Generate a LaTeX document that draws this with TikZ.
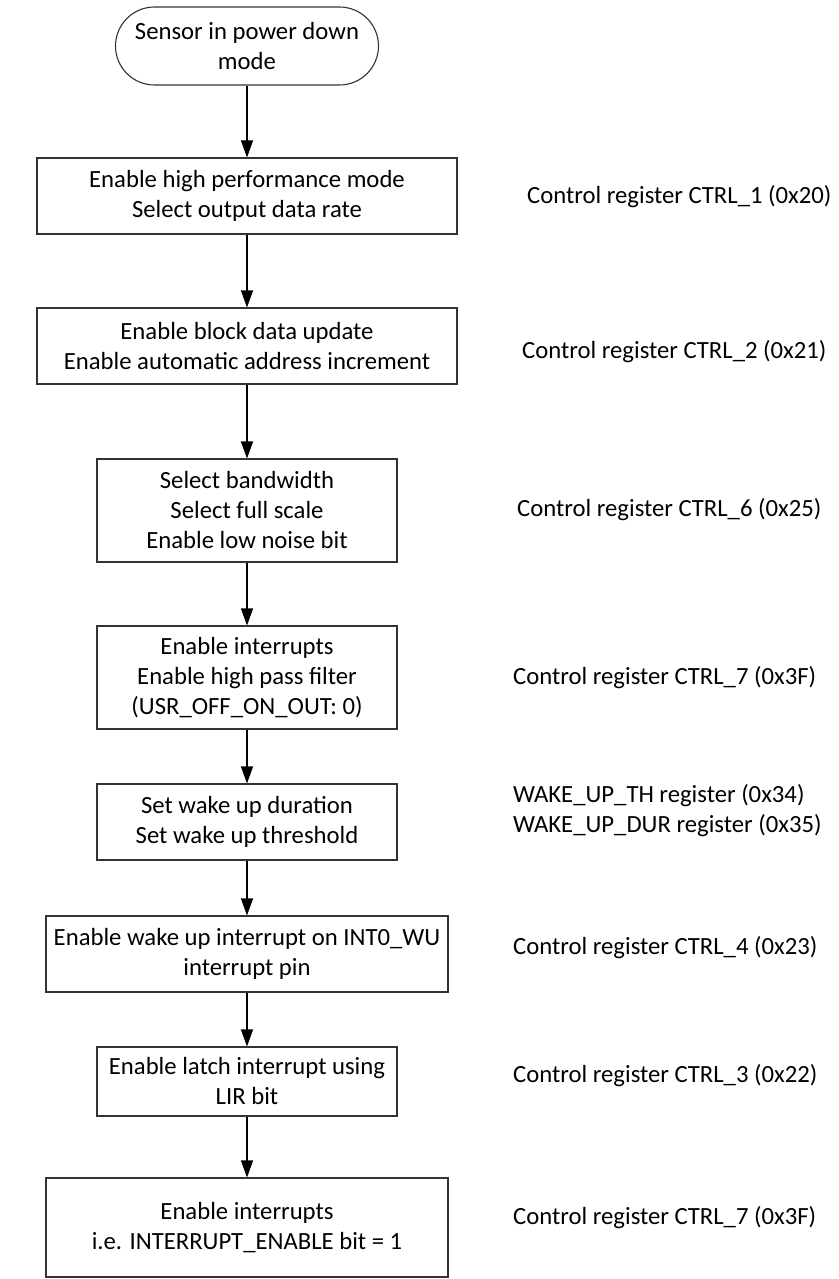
\documentclass[tikz,border=0pt]{standalone}
\usepackage{fontspec}
\setmainfont{Carlito}
\usetikzlibrary{arrows.meta}
\begin{document}
\begin{tikzpicture}[x=1pt,y=-1pt,
  every node/.style={font=\fontsize{24.7}{30}\selectfont, inner sep=0pt},
  stepbox/.style={draw=black!80, line width=1.1pt, rectangle, align=center},
  startbox/.style={draw=black!80, line width=1.1pt, rectangle, rounded corners=39pt, align=center},
  reglabel/.style={anchor=west, align=left},
  flow/.style={draw=black, line width=1.1pt, -{Triangle[length=17pt,width=12pt]}}]
\useasboundingbox (0,0) rectangle (838,1279);

% main sequence
\node[startbox, minimum width=263, minimum height=78] (s) at (247,46) {Sensor in power down\\mode};
\node[stepbox, minimum width=420, minimum height=76] (b1) at (247,196) {Enable high performance mode\\Select output data rate};
\node[stepbox, minimum width=420, minimum height=76] (b2) at (247,346) {Enable block data update\\Enable automatic address increment};
\node[stepbox, minimum width=300, minimum height=103] (b3) at (247,510.5) {Select bandwidth\\Select full scale\\Enable low noise bit};
\node[stepbox, minimum width=300, minimum height=103] (b4) at (247,677.5) {Enable interrupts\\Enable high pass filter\\(USR\_OFF\_ON\_OUT: 0)};
\node[stepbox, minimum width=300, minimum height=76] (b5) at (247,822) {Set wake up duration\\Set wake up threshold};
\node[stepbox, minimum width=402, minimum height=76] (b6) at (247,954) {Enable wake up interrupt on INT0\_WU\\interrupt pin};
\node[stepbox, minimum width=300, minimum height=69] (b7) at (247,1081.5) {Enable latch interrupt using\\LIR bit};
\node[stepbox, minimum width=402, minimum height=99] (b8) at (247,1227.5) {Enable interrupts\\i.e. INTERRUPT\_ENABLE bit = 1};

% register notes
\node[reglabel] (l1) at (527,197) {Control register CTRL\_1 (0x20)};
\node[reglabel] (l2) at (522,352) {Control register CTRL\_2 (0x21)};
\node[reglabel] (l3) at (517,510) {Control register CTRL\_6 (0x25)};
\node[reglabel] (l4) at (513,678) {Control register CTRL\_7 (0x3F)};
\node[reglabel] (l5) at (513,811) {WAKE\_UP\_TH register (0x34)\\WAKE\_UP\_DUR register (0x35)};
\node[reglabel] (l6) at (513,948) {Control register CTRL\_4 (0x23)};
\node[reglabel] (l7) at (513,1076) {Control register CTRL\_3 (0x22)};
\node[reglabel] (l8) at (513,1218) {Control register CTRL\_7 (0x3F)};

% connectors
\draw[flow] (s) -- (b1);
\draw[flow] (b1) -- (b2);
\draw[flow] (b2) -- (b3);
\draw[flow] (b3) -- (b4);
\draw[flow] (b4) -- (b5);
\draw[flow] (b5) -- (b6);
\draw[flow] (b6) -- (b7);
\draw[flow] (b7) -- (b8);
\end{tikzpicture}
\end{document}
